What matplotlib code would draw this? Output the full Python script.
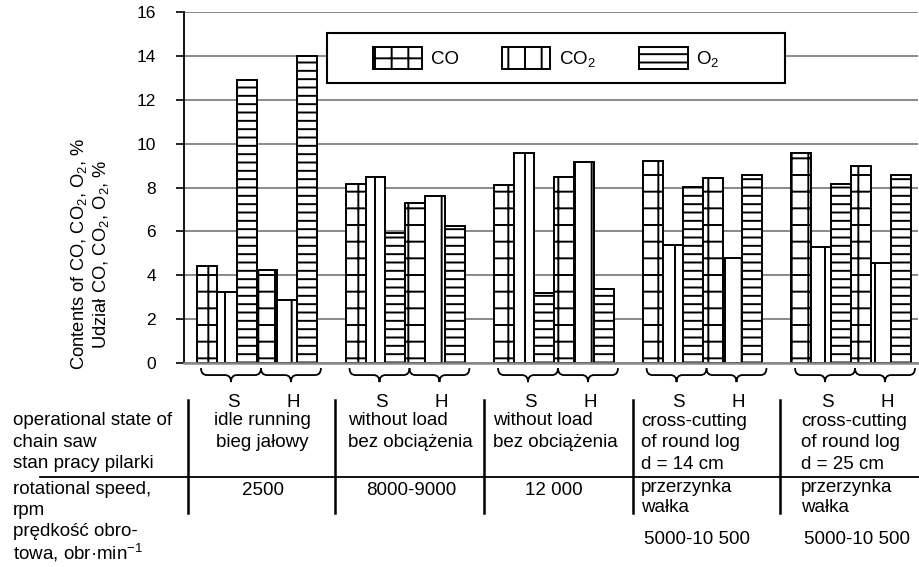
import numpy as np
import matplotlib
matplotlib.use("Agg")
import matplotlib.pyplot as plt
from matplotlib.path import Path
from matplotlib.patches import PathPatch, Patch, Rectangle
from matplotlib.lines import Line2D

plt.rcParams["font.family"] = ["Liberation Sans", "DejaVu Sans"]
plt.rcParams["mathtext.default"] = "regular"
plt.rcParams["hatch.linewidth"] = 1.4

# === data (contents, %) ===
groups = ["idle", "without load 8000-9000", "without load 12000",
          "cross-cutting d=14", "cross-cutting d=25"]
co_s  = [4.43, 8.16, 8.11, 9.22, 9.59]
co2_s = [3.25, 8.49, 9.59, 5.38, 5.27]
o2_s  = [12.9, 5.91, 3.20, 8.01, 8.17]
co_h  = [4.24, 7.28, 8.49, 8.43, 8.99]
co2_h = [2.87, 7.63, 9.16, 4.80, 4.56]
o2_h  = [14.0, 6.24, 3.39, 8.55, 8.55]

gas_labels = ["CO", "CO$_2$", "O$_2$"]
gas_hatch = ["+", "|", "--"]
states = ["S", "H"]
yticks = [0, 2, 4, 6, 8, 10, 12, 14, 16]

W, H = 919, 567
FS = 13.5
fig = plt.figure(figsize=(W / 100, H / 100), dpi=100)
L, R, T, B = 184, 918, 12, 363
ax = fig.add_axes([L / W, 1 - B / H, (R - L) / W, (B - T) / H])

stride = 7.43
centers = np.arange(len(groups)) * stride
series = [[co_s, co2_s, o2_s], [co_h, co2_h, o2_h]]
for s, vals in enumerate(series):
    for k, v in enumerate(vals):
        ax.bar(centers - 2.5 + 3 * s + k, v, width=1.0, color="white",
               edgecolor="black", linewidth=1.4, hatch=gas_hatch[k], zorder=3)

ax.set_xlim(-3.65, centers[-1] + 3.35)
ax.set_ylim(0, 16)
ax.set_yticks(yticks)
ax.set_xticks([])
ax.tick_params(axis="y", direction="out", length=6, width=1.2, pad=14, labelsize=12.5)
ax.yaxis.grid(True, color="#6a6a6a", linewidth=1.1)
ax.set_axisbelow(True)
for side in ["top", "right"]:
    ax.spines[side].set_visible(False)
ax.spines["left"].set_linewidth(1.3)
ax.spines["bottom"].set_color("#888888")
ax.spines["bottom"].set_linewidth(1.8)
ax.spines["bottom"].set_zorder(4)


# curly braces under each S / H triple
def brace(x0, x1, y_top, depth):
    xm = (x0 + x1) / 2
    y_mid = y_top - depth * 0.5
    y_tip = y_top - depth
    verts = [(x0, y_top), (x0, y_mid), (x0 + 0.3, y_mid),
             (xm - 0.3, y_mid), (xm, y_mid), (xm, y_tip),
             (xm, y_mid), (xm + 0.3, y_mid),
             (x1 - 0.3, y_mid), (x1, y_mid), (x1, y_top)]
    codes = [Path.MOVETO, Path.CURVE3, Path.CURVE3,
             Path.LINETO, Path.CURVE3, Path.CURVE3,
             Path.CURVE3, Path.CURVE3,
             Path.LINETO, Path.CURVE3, Path.CURVE3]
    ax.add_patch(PathPatch(Path(verts, codes), facecolor="none",
                           edgecolor="black", linewidth=1.3, clip_on=False))


for c in centers:
    for s in range(2):
        x0 = c - 3 + 3 * s + 0.2
        x1 = x0 + 3.0
        brace(x0, x1, -0.23, 0.64)
        ax.text((x0 + x1) / 2 + 0.1, -2.0, states[s], ha="center", va="baseline",
                fontsize=FS)

# legend: entries without frame, frame drawn as its own box
handles = [Patch(facecolor="white", edgecolor="black", hatch=h, linewidth=1.4)
           for h in gas_hatch]
leg = ax.legend(handles, gas_labels, loc="center left", ncol=3,
                bbox_to_anchor=(0.258, 0.869), frameon=False,
                fontsize=FS, handlelength=2.6, handleheight=1.4,
                handletextpad=0.45, columnspacing=2.3, borderpad=0,
                borderaxespad=0)
leg.set_zorder(6)
ax.add_patch(Rectangle((0.1948, 0.7977), 0.624, 0.1425, transform=ax.transAxes,
                       facecolor="white", edgecolor="black", linewidth=1.5,
                       zorder=5))

# y label
fig.text(90 / W, 1 - 254 / H, "Contents of CO, CO$_2$, O$_2$, %\nUdział CO, CO$_2$, O$_2$, %",
         rotation=90, ha="center", va="center", fontsize=13.2, linespacing=1.15)


# table beneath the chart (positions are text baselines)
def ftxt(x, y, s, ha="left"):
    fig.text(x / W, 1 - y / H, s, ha=ha, va="baseline", fontsize=FS)


ftxt(13, 425, "operational state of")
ftxt(13, 447, "chain saw")
ftxt(13, 468, "stan pracy pilarki")
ftxt(13, 494, "rotational speed,")
ftxt(13, 515, "rpm")
ftxt(13, 536, "prędkość obro-")
ftxt(13, 559, "towa, obr·min$^{-1}$")

ftxt(262, 425, "idle running", ha="center")
ftxt(262, 447, "bieg jałowy", ha="center")
ftxt(263, 495, "2500", ha="center")

ftxt(348, 425, "without load")
ftxt(348, 447, "bez obciążenia")
ftxt(411, 495, "8000-9000", ha="center")

ftxt(493, 425, "without load")
ftxt(493, 447, "bez obciążenia")
ftxt(554, 495, "12 000", ha="center")

for x0, d in [(641, "d = 14 cm"), (801, "d = 25 cm")]:
    ftxt(x0, 426, "cross-cutting")
    ftxt(x0, 447, "of round log")
    ftxt(x0, 469, d)
    ftxt(x0, 492, "przerzynka")
    ftxt(x0, 512, "wałka")
    ftxt(x0 + 3, 544, "5000-10 500")

fig.add_artist(Line2D([40 / W, 1.0], [1 - 477 / H] * 2, color="black", linewidth=1.3))
for xv in [188, 335, 484, 633, 780]:
    fig.add_artist(Line2D([xv / W] * 2, [1 - 400 / H, 1 - 513 / H],
                          color="black", linewidth=1.8))

fig.savefig("out.png", dpi=100)
